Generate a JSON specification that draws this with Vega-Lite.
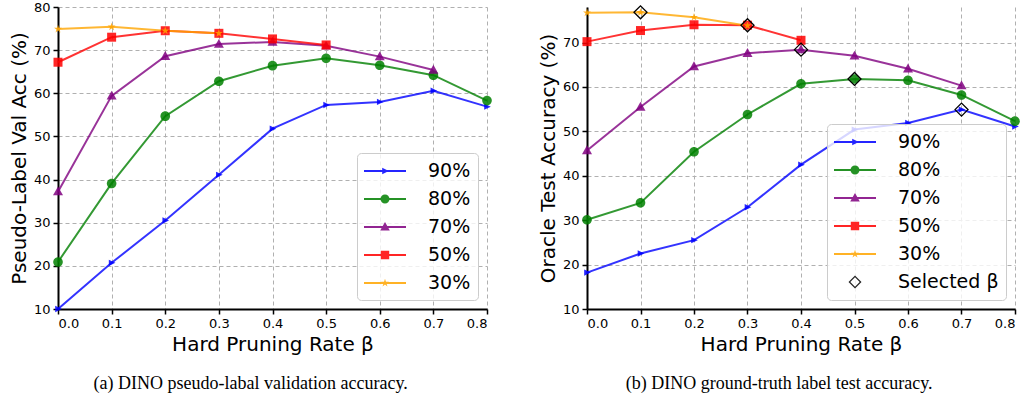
{
  "$schema": "https://vega.github.io/schema/vega-lite/v6.json",
  "padding": {"left": 9, "top": 1, "right": 5, "bottom": 5},
  "config": {
    "font": "DejaVu Sans",
    "view": {"stroke": null},
    "axis": {
      "domainColor": "black", "domainWidth": 2, "tickColor": "black", "tickWidth": 1.5, "tickSize": 5,
      "labelFontSize": 13, "labelColor": "black", "labelPadding": 3, "titleFontSize": 20, "titleFontWeight": "normal",
      "titleColor": "black", "gridColor": "#b0b0b0", "gridDash": [4, 3], "gridWidth": 1, "labelFont": "DejaVu Sans", "titleFont": "DejaVu Sans"
    },
    "legend": {
      "orient": "bottom-right", "offset": 9, "labelFontSize": 19, "labelFont": "DejaVu Sans", "labelColor": "black",
      "symbolSize": 400, "symbolStrokeWidth": 2, "symbolOffset": 10, "labelOffset": 32, "rowPadding": 7, "padding": 7,
      "symbolOpacity": 0.85, "strokeColor": "#cccccc", "fillColor": "rgba(255,255,255,0.8)", "cornerRadius": 4
    }
  },
  "datasets": {
    "d": [
      {"p": "a", "s": "90%", "b": 0.0, "v": 10.0}, {"p": "a", "s": "90%", "b": 0.1, "v": 20.7}, {"p": "a", "s": "90%", "b": 0.2, "v": 30.5},
      {"p": "a", "s": "90%", "b": 0.3, "v": 41.1}, {"p": "a", "s": "90%", "b": 0.4, "v": 51.8}, {"p": "a", "s": "90%", "b": 0.5, "v": 57.3},
      {"p": "a", "s": "90%", "b": 0.6, "v": 58.0}, {"p": "a", "s": "90%", "b": 0.7, "v": 60.6}, {"p": "a", "s": "90%", "b": 0.8, "v": 56.9},
      {"p": "a", "s": "80%", "b": 0.0, "v": 20.9}, {"p": "a", "s": "80%", "b": 0.1, "v": 39.1}, {"p": "a", "s": "80%", "b": 0.2, "v": 54.7},
      {"p": "a", "s": "80%", "b": 0.3, "v": 62.8}, {"p": "a", "s": "80%", "b": 0.4, "v": 66.4}, {"p": "a", "s": "80%", "b": 0.5, "v": 68.1},
      {"p": "a", "s": "80%", "b": 0.6, "v": 66.5}, {"p": "a", "s": "80%", "b": 0.7, "v": 64.2}, {"p": "a", "s": "80%", "b": 0.8, "v": 58.3},
      {"p": "a", "s": "70%", "b": 0.0, "v": 37.2}, {"p": "a", "s": "70%", "b": 0.1, "v": 59.4}, {"p": "a", "s": "70%", "b": 0.2, "v": 68.6},
      {"p": "a", "s": "70%", "b": 0.3, "v": 71.4}, {"p": "a", "s": "70%", "b": 0.4, "v": 71.9}, {"p": "a", "s": "70%", "b": 0.5, "v": 71.0},
      {"p": "a", "s": "70%", "b": 0.6, "v": 68.5}, {"p": "a", "s": "70%", "b": 0.7, "v": 65.4},
      {"p": "a", "s": "50%", "b": 0.0, "v": 67.2}, {"p": "a", "s": "50%", "b": 0.1, "v": 73.0}, {"p": "a", "s": "50%", "b": 0.2, "v": 74.5},
      {"p": "a", "s": "50%", "b": 0.3, "v": 73.9}, {"p": "a", "s": "50%", "b": 0.4, "v": 72.6}, {"p": "a", "s": "50%", "b": 0.5, "v": 71.2},
      {"p": "a", "s": "30%", "b": 0.0, "v": 74.9}, {"p": "a", "s": "30%", "b": 0.1, "v": 75.4}, {"p": "a", "s": "30%", "b": 0.2, "v": 74.5},
      {"p": "a", "s": "30%", "b": 0.3, "v": 73.9},
      {"p": "b", "s": "90%", "b": 0.0, "v": 18.2}, {"p": "b", "s": "90%", "b": 0.1, "v": 22.5}, {"p": "b", "s": "90%", "b": 0.2, "v": 25.5},
      {"p": "b", "s": "90%", "b": 0.3, "v": 32.9}, {"p": "b", "s": "90%", "b": 0.4, "v": 42.5}, {"p": "b", "s": "90%", "b": 0.5, "v": 50.4},
      {"p": "b", "s": "90%", "b": 0.6, "v": 51.9}, {"p": "b", "s": "90%", "b": 0.7, "v": 54.9, "sel": true}, {"p": "b", "s": "90%", "b": 0.8, "v": 51.1},
      {"p": "b", "s": "80%", "b": 0.0, "v": 30.1}, {"p": "b", "s": "80%", "b": 0.1, "v": 33.9}, {"p": "b", "s": "80%", "b": 0.2, "v": 45.4},
      {"p": "b", "s": "80%", "b": 0.3, "v": 53.8}, {"p": "b", "s": "80%", "b": 0.4, "v": 60.7}, {"p": "b", "s": "80%", "b": 0.5, "v": 61.8, "sel": true},
      {"p": "b", "s": "80%", "b": 0.6, "v": 61.5}, {"p": "b", "s": "80%", "b": 0.7, "v": 58.2}, {"p": "b", "s": "80%", "b": 0.8, "v": 52.3},
      {"p": "b", "s": "70%", "b": 0.0, "v": 45.7}, {"p": "b", "s": "70%", "b": 0.1, "v": 55.5}, {"p": "b", "s": "70%", "b": 0.2, "v": 64.6},
      {"p": "b", "s": "70%", "b": 0.3, "v": 67.6}, {"p": "b", "s": "70%", "b": 0.4, "v": 68.4, "sel": true}, {"p": "b", "s": "70%", "b": 0.5, "v": 67.0},
      {"p": "b", "s": "70%", "b": 0.6, "v": 64.1}, {"p": "b", "s": "70%", "b": 0.7, "v": 60.3},
      {"p": "b", "s": "50%", "b": 0.0, "v": 70.2}, {"p": "b", "s": "50%", "b": 0.1, "v": 72.7}, {"p": "b", "s": "50%", "b": 0.2, "v": 74.0},
      {"p": "b", "s": "50%", "b": 0.3, "v": 73.9, "sel": true}, {"p": "b", "s": "50%", "b": 0.4, "v": 70.5},
      {"p": "b", "s": "30%", "b": 0.0, "v": 76.7}, {"p": "b", "s": "30%", "b": 0.1, "v": 76.8, "sel": true}, {"p": "b", "s": "30%", "b": 0.2, "v": 75.7},
      {"p": "b", "s": "30%", "b": 0.3, "v": 73.8}
    ]
  },
  "hconcat": [
    {
      "width": 429, "height": 302,
      "title": {"text": "(a) DINO pseudo-labal validation accuracy.", "orient": "bottom", "anchor": "middle", "frame": "bounds", "font": "Liberation Serif", "fontSize": 18, "fontWeight": "normal", "offset": 21, "color": "black"},
      "data": {"name": "d"},
      "transform": [{"filter": "datum.p === 'a'"}],
      "encoding": {
        "x": {"field": "b", "type": "quantitative", "scale": {"domain": [0, 0.8], "nice": false}, "axis": {"values": [0, 0.1, 0.2, 0.3, 0.4, 0.5, 0.6, 0.7, 0.8], "format": ".1f", "title": "Hard Pruning Rate β", "titlePadding": 4}},
        "y": {"field": "v", "type": "quantitative", "scale": {"domain": [10, 80], "nice": false}, "axis": {"values": [10, 20, 30, 40, 50, 60, 70, 80], "title": "Pseudo-Label Val Acc (%)", "titlePadding": 4}}
      },
      "layer": [
        {
          "mark": {"type": "line", "strokeWidth": 2, "opacity": 0.8},
          "encoding": {
            "color": {"field": "s", "type": "nominal", "legend": null, "scale": {"domain": ["90%", "80%", "70%", "50%", "30%"], "range": ["#0000ff", "#008000", "#800080", "#ff0000", "#ffa500"]}}
          }
        },
        {
          "mark": {"type": "point", "filled": true, "size": 400, "opacity": 0.85},
          "encoding": {
            "color": {"field": "s", "type": "nominal", "legend": null, "scale": {"domain": ["90%", "80%", "70%", "50%", "30%"], "range": ["#0000ff", "#008000", "#800080", "#ff0000", "#ffa500"]}},
            "shape": {"field": "s", "type": "nominal", "legend": null, "scale": {"domain": ["90%", "80%", "70%", "50%", "30%"], "range": [
              "M0.38,0L-0.28,0.32L-0.28,-0.32Z",
              "M0.48,0A0.48,0.48,0,1,1,-0.48,0A0.48,0.48,0,1,1,0.48,0Z",
              "M0,-0.52L0.5,0.37L-0.5,0.37Z",
              "M-0.45,-0.45L0.45,-0.45L0.45,0.45L-0.45,0.45Z",
              "M0,-0.42L0.094,-0.129L0.399,-0.13L0.152,0.049L0.247,0.34L0,0.16L-0.247,0.34L-0.152,0.049L-0.399,-0.13L-0.094,-0.129Z"
            ]}}
          }
        },
        {
          "transform": [{"filter": "datum.b > 0.25 && datum.b < 0.55"}],
          "mark": {"type": "point", "filled": true, "size": 400, "opacity": 0},
          "encoding": {
            "color": {"field": "s", "type": "nominal", "legend": {"title": null}, "scale": {"domain": ["90%", "80%", "70%", "50%", "30%"], "range": ["#0000ff", "#008000", "#800080", "#ff0000", "#ffa500"]}},
            "shape": {"field": "s", "type": "nominal", "legend": {"title": null}, "scale": {"domain": ["90%", "80%", "70%", "50%", "30%"], "range": [
              "M-2.1,-0.1L2.1,-0.1L2.1,0.1L-2.1,0.1ZM0.38,0L-0.28,0.32L-0.28,-0.32Z",
              "M-2.1,-0.1L2.1,-0.1L2.1,0.1L-2.1,0.1ZM0.45,0A0.45,0.45,0,1,1,-0.45,0A0.45,0.45,0,1,1,0.45,0Z",
              "M-2.1,-0.1L2.1,-0.1L2.1,0.1L-2.1,0.1ZM0,-0.5L0.48,0.35L-0.48,0.35Z",
              "M-2.1,-0.1L2.1,-0.1L2.1,0.1L-2.1,0.1ZM-0.42,-0.42L0.42,-0.42L0.42,0.42L-0.42,0.42Z",
              "M-2.1,-0.1L2.1,-0.1L2.1,0.1L-2.1,0.1ZM0,-0.42L0.094,-0.129L0.399,-0.13L0.152,0.049L0.247,0.34L0,0.16L-0.247,0.34L-0.152,0.049L-0.399,-0.13L-0.094,-0.129Z"
            ]}}
          }
        }
      ],
      "resolve": {"scale": {"color": "independent", "shape": "independent"}}
    },
    {
      "width": 428, "height": 302,
      "title": {"text": "(b) DINO ground-truth label test accuracy.", "orient": "bottom", "anchor": "middle", "frame": "bounds", "font": "Liberation Serif", "fontSize": 18, "fontWeight": "normal", "offset": 21, "color": "black"},
      "data": {"name": "d"},
      "transform": [{"filter": "datum.p === 'b'"}],
      "encoding": {
        "x": {"field": "b", "type": "quantitative", "scale": {"domain": [0, 0.8], "nice": false}, "axis": {"values": [0, 0.1, 0.2, 0.3, 0.4, 0.5, 0.6, 0.7, 0.8], "format": ".1f", "title": "Hard Pruning Rate β", "titlePadding": 4}},
        "y": {"field": "v", "type": "quantitative", "scale": {"domain": [10, 78], "nice": false}, "axis": {"values": [10, 20, 30, 40, 50, 60, 70], "title": "Oracle Test Accuracy (%)", "titlePadding": 4}}
      },
      "layer": [
        {
          "mark": {"type": "line", "strokeWidth": 2, "opacity": 0.8},
          "encoding": {
            "color": {"field": "s", "type": "nominal", "legend": null, "scale": {"domain": ["90%", "80%", "70%", "50%", "30%"], "range": ["#0000ff", "#008000", "#800080", "#ff0000", "#ffa500"]}}
          }
        },
        {
          "mark": {"type": "point", "filled": true, "size": 400, "opacity": 0.85},
          "encoding": {
            "color": {"field": "s", "type": "nominal", "legend": null, "scale": {"domain": ["90%", "80%", "70%", "50%", "30%"], "range": ["#0000ff", "#008000", "#800080", "#ff0000", "#ffa500"]}},
            "shape": {"field": "s", "type": "nominal", "legend": null, "scale": {"domain": ["90%", "80%", "70%", "50%", "30%"], "range": [
              "M0.38,0L-0.28,0.32L-0.28,-0.32Z",
              "M0.48,0A0.48,0.48,0,1,1,-0.48,0A0.48,0.48,0,1,1,0.48,0Z",
              "M0,-0.52L0.5,0.37L-0.5,0.37Z",
              "M-0.45,-0.45L0.45,-0.45L0.45,0.45L-0.45,0.45Z",
              "M0,-0.42L0.094,-0.129L0.399,-0.13L0.152,0.049L0.247,0.34L0,0.16L-0.247,0.34L-0.152,0.049L-0.399,-0.13L-0.094,-0.129Z"
            ]}}
          }
        },
        {
          "transform": [{"filter": "datum.sel === true"}],
          "mark": {"type": "point", "shape": "diamond", "filled": false, "size": 169, "stroke": "black", "strokeWidth": 1.3, "opacity": 1}
        },
        {
          "transform": [{"filter": "datum.b > 0.25 && datum.b < 0.55"}],
          "mark": {"type": "point", "filled": true, "size": 400, "opacity": 0},
          "encoding": {
            "color": {"field": "s", "type": "nominal", "legend": {"title": null}, "scale": {"domain": ["90%", "80%", "70%", "50%", "30%", "Selected β"], "range": ["#0000ff", "#008000", "#800080", "#ff0000", "#ffa500", "#000000"]}},
            "shape": {"field": "s", "type": "nominal", "legend": {"title": null}, "scale": {"domain": ["90%", "80%", "70%", "50%", "30%", "Selected β"], "range": [
              "M-2.1,-0.1L2.1,-0.1L2.1,0.1L-2.1,0.1ZM0.38,0L-0.28,0.32L-0.28,-0.32Z",
              "M-2.1,-0.1L2.1,-0.1L2.1,0.1L-2.1,0.1ZM0.45,0A0.45,0.45,0,1,1,-0.45,0A0.45,0.45,0,1,1,0.45,0Z",
              "M-2.1,-0.1L2.1,-0.1L2.1,0.1L-2.1,0.1ZM0,-0.5L0.48,0.35L-0.48,0.35Z",
              "M-2.1,-0.1L2.1,-0.1L2.1,0.1L-2.1,0.1ZM-0.42,-0.42L0.42,-0.42L0.42,0.42L-0.42,0.42Z",
              "M-2.1,-0.1L2.1,-0.1L2.1,0.1L-2.1,0.1ZM0,-0.42L0.094,-0.129L0.399,-0.13L0.152,0.049L0.247,0.34L0,0.16L-0.247,0.34L-0.152,0.049L-0.399,-0.13L-0.094,-0.129Z",
              "M0,-0.65L0.65,0L0,0.65L-0.65,0ZM0,-0.47L-0.47,0L0,0.47L0.47,0Z"
            ]}}
          }
        }
      ],
      "resolve": {"scale": {"color": "independent", "shape": "independent"}}
    }
  ],
  "spacing": 46,
  "resolve": {"scale": {"color": "independent", "shape": "independent"}, "legend": {"color": "independent", "shape": "independent"}}
}
